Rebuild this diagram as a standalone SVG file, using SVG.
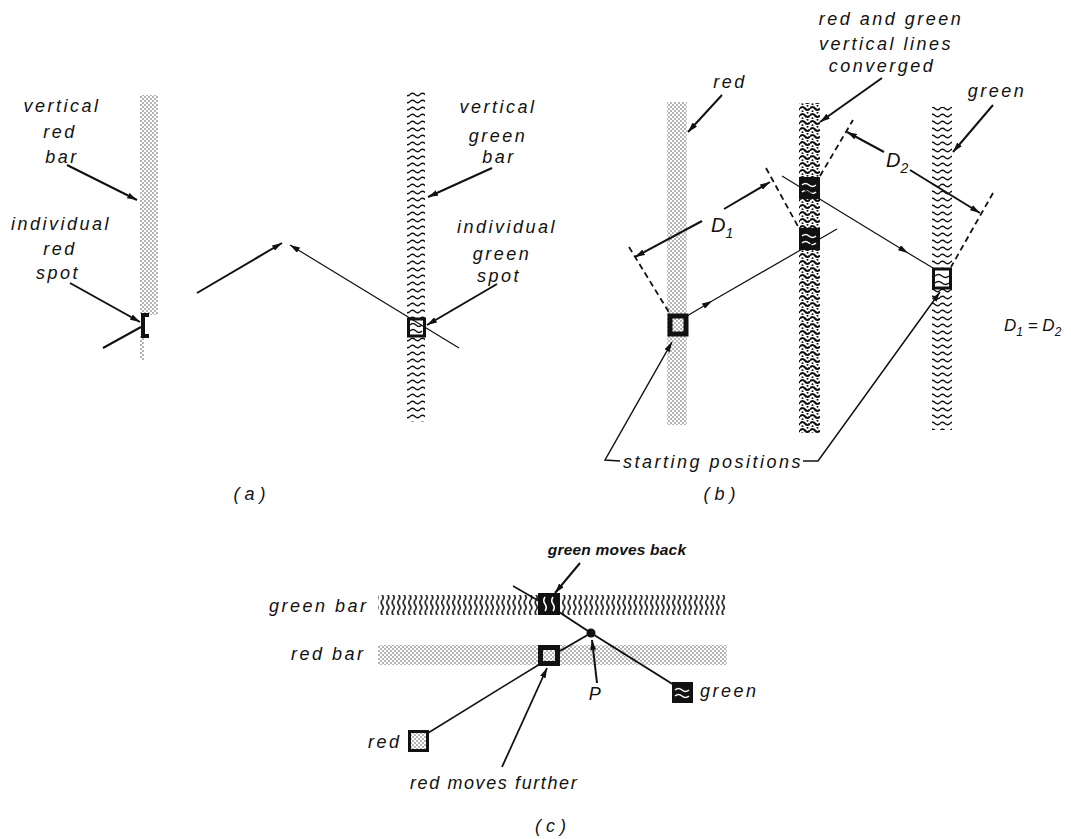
<svg xmlns="http://www.w3.org/2000/svg" width="1071" height="839" viewBox="0 0 1071 839">
<style>
.t{font-family:"Liberation Sans",Arial,sans-serif;font-style:italic;font-size:18px;letter-spacing:2.5px;fill:#111}
.lbl{fill:none;stroke:#111;stroke-width:2}
.mv{fill:none;stroke:#111;stroke-width:1.2}
.dash{fill:none;stroke:#111;stroke-width:1.8;stroke-dasharray:6 4}
.wW{fill:none;stroke:#fff;stroke-width:1.6}
.wK{fill:none;stroke:#111;stroke-width:1.4}
</style>
<defs>
<marker id="ah" viewBox="0 0 10 6" refX="10" refY="3" markerWidth="10" markerHeight="6" markerUnits="userSpaceOnUse" orient="auto"><path d="M0,0 L10,3 L0,6 z" fill="#111"/></marker>
<pattern id="dt" width="4" height="4" patternUnits="userSpaceOnUse"><rect width="4" height="4" fill="#fff"/><circle cx="1" cy="1" r="0.7" fill="#333"/><circle cx="3" cy="3" r="0.7" fill="#333"/></pattern>
<pattern id="wv" width="10" height="7" patternUnits="userSpaceOnUse"><rect width="10" height="7" fill="#fff"/><path d="M0,3.5 Q2.5,1 5,3.5 T10,3.5" fill="none" stroke="#111" stroke-width="1.3"/></pattern>
<pattern id="cv" width="10" height="7" patternUnits="userSpaceOnUse"><rect width="10" height="7" fill="#fff"/><path d="M0,3.5 Q2.5,0.5 5,3.5 T10,3.5" fill="none" stroke="#111" stroke-width="2.2"/><circle cx="2.5" cy="6.2" r="1" fill="#111"/><circle cx="7.5" cy="0.8" r="1" fill="#111"/></pattern>
<pattern id="sq" width="5.5" height="10" patternUnits="userSpaceOnUse"><rect width="5.5" height="10" fill="#fff"/><path d="M2.75,0 Q0.8,2.5 2.75,5 T2.75,10" fill="none" stroke="#111" stroke-width="1.6"/></pattern>
</defs>

<!-- Panel (a) -->
<g id="a-red-bar"><rect x="140" y="95" width="18" height="220" fill="url(#dt)"/><rect x="140" y="336" width="4" height="24" fill="url(#dt)"/></g>
<g id="a-red-spot"><path d="M149,315 H143 V336 H149" fill="none" stroke="#111" stroke-width="4"/></g>
<g id="a-green-bar"><rect x="407" y="90" width="18" height="332" fill="url(#wv)"/></g>
<g id="a-green-spot"><rect x="408.5" y="319" width="16" height="17" fill="#fff" stroke="#111" stroke-width="3"/><path class="wK" d="M410,325 q3,-3 6,0 t6,0 M410,331 q3,-3 6,0 t6,0"/></g>
<g id="a-labels">
<text class="t" x="62" y="112" text-anchor="middle">vertical</text>
<text class="t" x="60" y="138" text-anchor="middle">red</text>
<text class="t" x="62" y="163" text-anchor="middle">bar</text>
<text class="t" x="61" y="230" text-anchor="middle">individual</text>
<text class="t" x="60" y="255" text-anchor="middle">red</text>
<text class="t" x="58" y="279" text-anchor="middle">spot</text>
<text class="t" x="498" y="113" text-anchor="middle">vertical</text>
<text class="t" x="498" y="142" text-anchor="middle">green</text>
<text class="t" x="499" y="163" text-anchor="middle">bar</text>
<text class="t" x="507" y="233" text-anchor="middle">individual</text>
<text class="t" x="502" y="260" text-anchor="middle">green</text>
<text class="t" x="499" y="282" text-anchor="middle">spot</text>
<text class="t" x="252" y="500" text-anchor="middle" style="letter-spacing:5px">(a)</text>
</g>

<!-- Panel (b) -->
<g id="b-red-bar"><rect x="667" y="102" width="20" height="323" fill="url(#dt)"/></g>
<g id="b-converged-bar"><rect x="799" y="103" width="21" height="330" fill="url(#cv)"/></g>
<g id="b-green-bar"><rect x="932" y="107" width="20" height="323" fill="url(#wv)"/></g>
<g id="b-red-start"><rect x="670" y="316" width="16" height="18" fill="url(#dt)" stroke="#111" stroke-width="5"/></g>
<g id="b-conv-upper"><rect x="800" y="178" width="19" height="20" fill="#111" stroke="#111" stroke-width="2"/><path class="wW" d="M802,185 q3.5,-3 7,0 t7,0 M802,192 q3.5,-3 7,0 t7,0"/></g>
<g id="b-conv-lower"><rect x="800" y="229" width="19" height="20" fill="#111" stroke="#111" stroke-width="2"/><path class="wW" d="M802,236 q3.5,-3 7,0 t7,0 M802,243 q3.5,-3 7,0 t7,0"/></g>
<g id="b-green-start"><rect x="933.5" y="269" width="17" height="19" fill="#fff" stroke="#111" stroke-width="3"/><path class="wK" d="M935,276 q3.5,-3 7,0 t7,0 M935,283 q3.5,-3 7,0 t7,0"/></g>
<g id="b-labels">
<text class="t" x="730" y="88" text-anchor="middle">red</text>
<text class="t" x="891" y="25" text-anchor="middle">red and green</text>
<text class="t" x="886" y="50" text-anchor="middle">vertical lines</text>
<text class="t" x="882" y="72" text-anchor="middle">converged</text>
<text class="t" x="997" y="97" text-anchor="middle">green</text>
<text class="t" x="711" y="232" style="font-size:20px;letter-spacing:0">D<tspan style="font-size:14px" dy="6">1</tspan></text>
<text class="t" x="886" y="167" style="font-size:20px;letter-spacing:0">D<tspan style="font-size:14px" dy="6">2</tspan></text>
<text class="t" x="1004" y="331" style="font-size:17px;letter-spacing:0">D<tspan style="font-size:12px" dy="5">1</tspan><tspan dy="-5"> = D</tspan><tspan style="font-size:12px" dy="5">2</tspan></text>
<text class="t" x="623" y="468">starting positions</text>
<text class="t" x="722" y="500" text-anchor="middle" style="letter-spacing:5px">(b)</text>
</g>

<!-- Panel (c) -->
<g id="c-green-bar"><rect x="378" y="595" width="349" height="20" fill="url(#sq)"/></g>
<g id="c-red-bar"><rect x="378" y="645" width="349" height="20" fill="url(#dt)"/></g>
<g id="c-green-moved"><rect x="539" y="594" width="20" height="20" fill="#111" stroke="#111" stroke-width="2"/><path class="wW" d="M545,597 q-2.5,3.5 0,7 t0,7 M553,597 q-2.5,3.5 0,7 t0,7"/></g>
<g id="c-red-moved"><rect x="540.5" y="647.5" width="17" height="16" fill="url(#dt)" stroke="#111" stroke-width="5"/></g>
<g id="c-P"><circle cx="591" cy="633" r="4.5" fill="#111"/></g>
<g id="c-green-start"><rect x="673" y="683" width="19" height="19" fill="#111" stroke="#111" stroke-width="2"/><path class="wW" d="M675,690 q3.5,-3 7,0 t7,0 M675,696 q3.5,-3 7,0 t7,0"/></g>
<g id="c-red-start"><rect x="409.5" y="731.5" width="18" height="19" fill="url(#dt)" stroke="#111" stroke-width="3"/></g>
<g id="c-labels">
<text class="t" x="617" y="555" text-anchor="middle" style="font-size:15.5px;letter-spacing:0.2px;font-weight:bold">green moves back</text>
<text class="t" x="269" y="612">green bar</text>
<text class="t" x="291" y="660">red bar</text>
<text class="t" x="700" y="697">green</text>
<text class="t" x="368" y="748">red</text>
<text class="t" x="596" y="700" text-anchor="middle">P</text>
<text class="t" x="410" y="789" style="letter-spacing:1.6px">red moves further</text>
<text class="t" x="553" y="832" text-anchor="middle" style="letter-spacing:5px">(c)</text>
</g>

<g id="connectors">
<!-- (a) -->
<line class="lbl" x1="67" y1="165" x2="137" y2="200" marker-end="url(#ah)"/>
<line class="lbl" x1="70" y1="283" x2="140" y2="322" marker-end="url(#ah)"/>
<line class="lbl" x1="492" y1="168" x2="428" y2="197" marker-end="url(#ah)"/>
<line class="lbl" x1="497" y1="284" x2="427" y2="325" marker-end="url(#ah)"/>
<line class="lbl" x1="103" y1="348" x2="141" y2="327"/>
<line class="lbl" x1="197" y1="293" x2="282" y2="243" marker-end="url(#ah)"/>
<line class="mv" x1="459" y1="348" x2="290" y2="245" marker-end="url(#ah)"/>
<!-- (b) -->
<line class="lbl" x1="722" y1="95" x2="688" y2="132" marker-end="url(#ah)"/>
<line class="lbl" x1="882" y1="78" x2="820" y2="122" marker-end="url(#ah)"/>
<line class="lbl" x1="993" y1="105" x2="953" y2="152" marker-end="url(#ah)"/>
<line class="dash" x1="629" y1="247" x2="670" y2="314"/>
<line class="dash" x1="766" y1="168" x2="800" y2="230"/>
<line class="dash" x1="820" y1="176" x2="853" y2="120"/>
<line class="dash" x1="993" y1="193" x2="951" y2="267"/>
<line class="lbl" x1="702" y1="221" x2="635" y2="257" marker-end="url(#ah)"/>
<line class="lbl" x1="724" y1="209" x2="770" y2="182" marker-end="url(#ah)"/>
<line class="lbl" x1="884" y1="152" x2="847" y2="132" marker-end="url(#ah)"/>
<line class="lbl" x1="910" y1="170" x2="980" y2="213" marker-end="url(#ah)"/>
<line class="mv" x1="687" y1="316" x2="712" y2="301" marker-end="url(#ah)"/>
<line class="mv" x1="712" y1="301" x2="837" y2="229"/>
<line class="mv" x1="782" y1="176" x2="908" y2="253" marker-end="url(#ah)"/>
<line class="mv" x1="908" y1="253" x2="933" y2="268"/>
<polyline class="mv" style="stroke-width:1.5" points="620,461 605,460 672,342" marker-end="url(#ah)"/>
<polyline class="mv" style="stroke-width:1.5" points="803,461 818,461 940,292" marker-end="url(#ah)"/>
<!-- (c) -->
<line class="lbl" x1="580" y1="563" x2="555" y2="593" marker-end="url(#ah)"/>
<line class="mv" style="stroke-width:1.5" x1="513" y1="586" x2="539" y2="601"/>
<line class="lbl" x1="559" y1="612" x2="591" y2="633"/>
<line class="lbl" x1="560" y1="651" x2="591" y2="633"/>
<line class="lbl" x1="591" y1="633" x2="674" y2="685"/>
<line class="lbl" x1="597" y1="683" x2="592" y2="640" marker-end="url(#ah)"/>
<line class="mv" style="stroke-width:1.5" x1="428" y1="733" x2="540" y2="664"/>
<line class="lbl" style="stroke-width:1.8" x1="502" y1="767" x2="547" y2="668" marker-end="url(#ah)"/>
</g>
</svg>
